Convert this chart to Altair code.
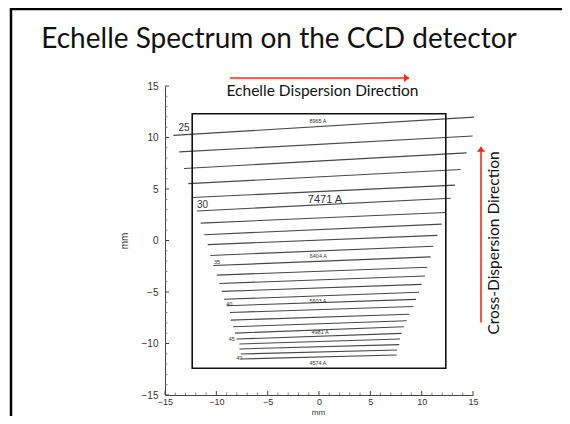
import altair as alt
import pandas as pd

# ---- echelle orders (straight traces on the detector, mm) ----
orders = list(range(25, 50))
x_start = [-14.19, -13.61, -13.15, -12.73, -12.40, -11.91, -11.52, -11.17, -10.84, -10.58,
           -10.30, -9.96, -9.71, -9.48, -9.25, -8.99, -8.67, -8.60, -8.35, -8.18,
           -8.02, -7.76, -7.76, -7.63, -7.53]
x_end = [15.10, 14.97, 14.38, 13.80, 13.25, 12.83, 12.34, 11.95, 11.53, 11.13,
         10.87, 10.55, 10.32, 10.00, 9.74, 9.45, 9.19, 8.80, 8.54, 8.28,
         8.05, 7.89, 7.82, 7.63, 7.57]
y_start = [10.21, 8.60, 6.99, 5.52, 4.17, 2.87, 1.69, 0.56, -0.40, -1.45,
           -2.43, -3.36, -4.17, -4.94, -5.71, -6.33, -6.99, -7.73, -8.37, -8.99,
           -9.57, -10.05, -10.53, -11.02, -11.50]
y_end = [11.98, 10.15, 8.51, 6.90, 5.38, 4.10, 2.72, 1.59, 0.50, -0.56,
         -1.59, -2.59, -3.45, -4.26, -5.03, -5.72, -6.41, -7.16, -7.79, -8.37,
         -9.02, -9.57, -10.11, -10.63, -11.11]

# ---- order number labels ----
label_orders = [25, 30, 35, 40, 45, 49]
order_label_x = [-13.15, -11.35, -9.94, -8.74, -8.50, -7.77]
order_label_y = [10.90, 3.46, -2.04, -6.19, -9.57, -11.43]

# ---- blaze wavelength labels ----
wavelength_labels = ["8965 A", "7471 A", "6404 A", "5603 A", "4981 A", "4574 A"]
wavelength_x = [-0.10, 0.58, -0.07, -0.10, 0.10, -0.10]
wavelength_y = [11.62, 3.91, -1.52, -5.84, -8.92, -11.91]

# ---- CCD detector outline (mm) ----
detector_x = [-12.35, 12.35]
detector_y = [-12.40, 12.30]

# ---- direction arrows (mm) ----
disp_arrow_x = [-8.67, 8.77]
disp_arrow_y = 15.77
cross_arrow_x = 15.78
cross_arrow_y = [-7.96, 9.09]

major_ticks = [-15, -10, -5, 0, 5, 10, 15]
minor_ticks = [v for v in range(-15, 16) if v % 5 != 0]

W, H = 308, 309
RED = "#ff2a12"
FONT = "Liberation Sans"
SLIDE_FONT = "Lato"

xs = alt.Scale(domain=[-15, 15], nice=False, zero=False)
ys = alt.Scale(domain=[-15, 15], nice=False, zero=False)

x_axis = alt.Axis(values=major_ticks, ticks=False, grid=False, format="d",
                  domainColor="#444", domainWidth=1, labelFlush=False,
                  labelFont=FONT, labelFontSize=9, labelColor="#333", labelPadding=2,
                  title="mm", titleFont=FONT, titleFontSize=8, titleFontWeight="normal",
                  titleColor="#333", titleX=153, titleY=19, titleAlign="center",
                  titleBaseline="alphabetic")
y_axis = alt.Axis(values=major_ticks, ticks=False, grid=False, format="d",
                  domainColor="#444", domainWidth=1, labelFlush=False,
                  labelFont=FONT, labelFontSize=10, labelColor="#333", labelPadding=7,
                  title="mm", titleFont=FONT, titleFontSize=10, titleFontWeight="normal",
                  titleColor="#333", titleX=-41, titleY=H / 2, titleAngle=270,
                  titleAlign="center", titleBaseline="middle")


def X(field):
    return alt.X(field, scale=xs, axis=x_axis)


def Y(field):
    return alt.Y(field, scale=ys, axis=y_axis)


orders_df = pd.DataFrame({"order": orders, "x0": x_start, "x1": x_end,
                          "y0": y_start, "y1": y_end})
lines = alt.Chart(orders_df).mark_rule(color="#474747", strokeWidth=1.1).encode(
    x=X("x0:Q"), x2="x1:Q", y=Y("y0:Q"), y2="y1:Q",
)

det_df = pd.DataFrame({"x0": [detector_x[0]], "x1": [detector_x[1]],
                       "y0": [detector_y[0]], "y1": [detector_y[1]]})
detector = alt.Chart(det_df).mark_rect(filled=False, color="#111", strokeWidth=1.6).encode(
    x=X("x0:Q"), x2="x1:Q", y=Y("y0:Q"), y2="y1:Q",
)

# inward axis ticks
xt_major = alt.Chart(pd.DataFrame({"v": major_ticks})).mark_rule(color="#444", strokeWidth=1).encode(
    x=X("v:Q"), y=alt.value(H), y2=alt.value(H - 4))
xt_minor = alt.Chart(pd.DataFrame({"v": minor_ticks})).mark_rule(color="#666", strokeWidth=0.8).encode(
    x=X("v:Q"), y=alt.value(H), y2=alt.value(H - 2.5))
yt_major = alt.Chart(pd.DataFrame({"v": major_ticks})).mark_rule(color="#444", strokeWidth=1).encode(
    y=Y("v:Q"), x=alt.value(0), x2=alt.value(4))
yt_minor = alt.Chart(pd.DataFrame({"v": minor_ticks})).mark_rule(color="#666", strokeWidth=0.8).encode(
    y=Y("v:Q"), x=alt.value(0), x2=alt.value(2.5))

ol_df = pd.DataFrame({"order": label_orders, "x": order_label_x, "y": order_label_y,
                      "txt": [str(o) for o in label_orders]})
order_text = alt.Chart(ol_df).mark_text(font=FONT, color="#333", baseline="middle", align="center").encode(
    x=X("x:Q"), y=Y("y:Q"), text="txt:N",
    size=alt.condition(alt.FieldOneOfPredicate(field="order", oneOf=[25, 30]),
                       alt.value(10), alt.value(5.5)),
)

wl_df = pd.DataFrame({"order": label_orders, "x": wavelength_x, "y": wavelength_y,
                      "txt": wavelength_labels})
wl_text = alt.Chart(wl_df).mark_text(font=FONT, color="#333", baseline="middle", align="center").encode(
    x=X("x:Q"), y=Y("y:Q"), text="txt:N",
    size=alt.condition(alt.FieldOneOfPredicate(field="order", oneOf=[30]),
                       alt.value(11), alt.value(5.5)),
)

# red direction arrows
arr_h_df = pd.DataFrame({"x0": [disp_arrow_x[0]], "x1": [disp_arrow_x[1]], "y": [disp_arrow_y]})
arr_h = alt.Chart(arr_h_df).mark_rule(color=RED, strokeWidth=1.6).encode(
    x=X("x0:Q"), x2="x1:Q", y=Y("y:Q"))
head_h = alt.Chart(arr_h_df).mark_point(shape="M0,0L-1,-0.85L-1,0.85Z", filled=True, color=RED,
                                        size=100, opacity=1).encode(
    x=X("x1:Q"), y=Y("y:Q"))

arr_v_df = pd.DataFrame({"x": [cross_arrow_x], "y0": [cross_arrow_y[0]], "y1": [cross_arrow_y[1]]})
arr_v = alt.Chart(arr_v_df).mark_rule(color=RED, strokeWidth=1.6).encode(
    x=X("x:Q"), y=Y("y0:Q"), y2="y1:Q")
head_v = alt.Chart(arr_v_df).mark_point(shape="M0,0L-0.85,1L0.85,1Z", filled=True, color=RED,
                                        size=100, opacity=1).encode(
    x=X("x:Q"), y=Y("y1:Q"))

ann_df = pd.DataFrame({"x": [0.34], "y": [14.0], "txt": ["Echelle Dispersion Direction"]})
disp_text = alt.Chart(ann_df).mark_text(font=SLIDE_FONT, fontSize=15.5, color="#111",
                                        baseline="alphabetic", align="center").encode(
    x=X("x:Q"), y=Y("y:Q"), text="txt:N")

ann2_df = pd.DataFrame({"x": [17.04], "y": [-0.24], "txt": ["Cross-Dispersion Direction"]})
cross_text = alt.Chart(ann2_df).mark_text(font=SLIDE_FONT, fontSize=15.5, color="#111", angle=270,
                                          baseline="middle", align="center").encode(
    x=X("x:Q"), y=Y("y:Q"), text="txt:N")

# slide title and frame
title_df = pd.DataFrame({"txt": ["Echelle Spectrum on the CCD detector"]})
title = alt.Chart(title_df).mark_text(font=SLIDE_FONT, fontSize=28, color="#111",
                                      baseline="alphabetic", align="center").encode(
    x=alt.value(114), y=alt.value(-38), text="txt:N")

frame_left = alt.Chart(title_df).mark_rule(color="#000", strokeWidth=2.5).encode(
    x=alt.value(-154), y=alt.value(-78), y2=alt.value(331))
frame_top = alt.Chart(title_df).mark_rule(color="#000", strokeWidth=2.5).encode(
    x=alt.value(-155), x2=alt.value(400), y=alt.value(-77))

chart = alt.layer(
    lines, detector, xt_minor, xt_major, yt_minor, yt_major,
    order_text, wl_text, arr_h, head_h, arr_v, head_v, disp_text, cross_text,
    frame_left, frame_top, title,
).properties(
    width=W, height=H,
    autosize=alt.AutoSizeParams(type="none"),
    padding={"left": 157, "top": 78, "right": 89, "bottom": 21},
).configure_view(stroke=None)

chart.save("out.html", embed_options={"renderer": "svg", "actions": False})
